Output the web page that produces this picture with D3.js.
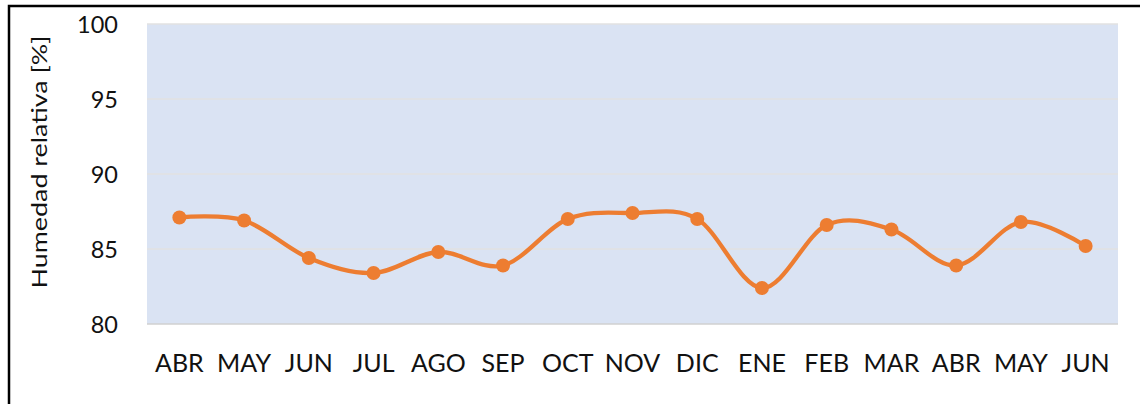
<!DOCTYPE html>
<html>
<head>
<meta charset="utf-8">
<script src="https://cdn.jsdelivr.net/npm/d3@7"></script>
<style>
  body { margin: 0; background: #fff; }
  svg text { font-family: Lato, "Open Sans", sans-serif; fill: #111; }
</style>
</head>
<body>
<div id="chart"></div>
<script>
// months along the x axis (Apr of one year to Jun of the next)
var months = ["ABR", "MAY", "JUN", "JUL", "AGO", "SEP", "OCT", "NOV", "DIC", "ENE", "FEB", "MAR", "ABR", "MAY", "JUN"];
// relative humidity in percent
var humidity = [87.1, 86.9, 84.4, 83.4, 84.8, 83.9, 87.0, 87.4, 87.0, 82.4, 86.6, 86.3, 83.9, 86.8, 85.2];
var yTicks = [80, 85, 90, 95, 100];

var width = 1140, height = 404;
var margin = { top: 24, right: 22, bottom: 80, left: 147 };

var svg = d3.select("#chart").append("svg")
    .attr("width", width)
    .attr("height", height);

// outer frame, cut off by the window on the right and bottom
svg.append("rect")
    .attr("x", 9).attr("y", 6)
    .attr("width", 1200).attr("height", 500)
    .attr("fill", "none")
    .attr("stroke", "#000")
    .attr("stroke-width", 2.5);

var x = d3.scaleBand()
    .domain(d3.range(months.length))
    .range([margin.left, width - margin.right]);

var y = d3.scaleLinear()
    .domain([80, 100])
    .range([height - margin.bottom, margin.top]);

// plot background
svg.append("rect")
    .attr("x", margin.left)
    .attr("y", y(100))
    .attr("width", x.range()[1] - margin.left)
    .attr("height", y(80) - y(100))
    .attr("fill", "#dae3f3");

// gridlines
svg.append("g")
    .selectAll("line")
    .data(yTicks)
    .join("line")
    .attr("x1", margin.left)
    .attr("x2", x.range()[1])
    .attr("y1", d => y(d))
    .attr("y2", d => y(d))
    .attr("stroke", d => d === 80 ? "#d0d0d0" : "#e2e2e2")
    .attr("stroke-width", 1.3);

// y axis labels
var yAxis = svg.append("g")
    .attr("transform", `translate(${margin.left - 29},0)`)
    .call(d3.axisLeft(y).tickValues(yTicks).tickSize(0).tickPadding(0));
yAxis.select(".domain").remove();
yAxis.selectAll("text")
    .style("font-size", "23.5px")
    .attr("dy", "0.35em")
    .attr("fill", "#111");

// x axis labels
var xAxis = svg.append("g")
    .attr("transform", `translate(0,${y(80)})`)
    .call(d3.axisBottom(x).tickFormat(i => months[i]).tickSize(0));
xAxis.select(".domain").remove();
xAxis.selectAll("text")
    .style("font-size", "25px")
    .attr("y", 48)
    .attr("dy", 0)
    .attr("fill", "#111");

// y axis title (stretched along its length like the picture)
svg.append("text")
    .attr("transform", `translate(47,162) scale(1,1.25) rotate(-90)`)
    .attr("text-anchor", "middle")
    .style("font-size", "21.5px")
    .text("Humedad relativa [%]");

// smoothed line
var line = d3.line()
    .x((d, i) => x(i) + x.bandwidth() / 2)
    .y(d => y(d))
    .curve(d3.curveCatmullRom.alpha(0));

svg.append("path")
    .datum(humidity)
    .attr("d", line)
    .attr("fill", "none")
    .attr("stroke", "#ed7d31")
    .attr("stroke-width", 4.3);

svg.append("g")
    .selectAll("circle")
    .data(humidity)
    .join("circle")
    .attr("cx", (d, i) => x(i) + x.bandwidth() / 2)
    .attr("cy", d => y(d))
    .attr("r", 7)
    .attr("fill", "#ed7d31");
</script>
</body>
</html>
